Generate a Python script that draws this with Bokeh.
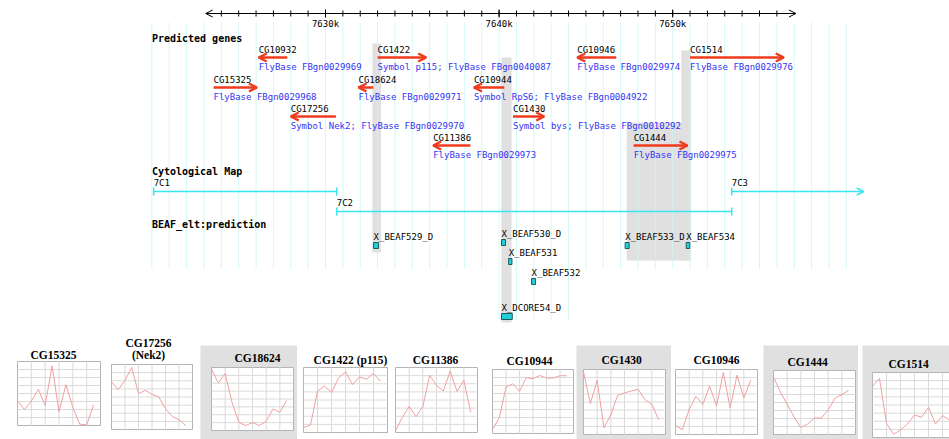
from bokeh.plotting import figure
from bokeh.models import Range1d, ColumnDataSource, Arrow, OpenHead, Spacer
from bokeh.layouts import column, row
from bokeh.embed import file_html
from bokeh.resources import INLINE
from bokeh.core.properties import value

# ---------------- data ----------------
ruler_start = 7623.1
ruler_end = 7657.1
ruler_labels = [7630, 7640, 7650]

gene_names = ["CG15325", "CG10932", "CG17256", "CG18624", "CG1422", "CG11386",
              "CG10944", "CG1430", "CG10946", "CG1444", "CG1514"]
gene_start = [7623.55, 7626.15, 7628.0, 7631.9, 7633.0, 7636.2,
              7638.55, 7640.8, 7644.5, 7647.75, 7651.0]
gene_end = [7626.05, 7627.8, 7630.6, 7632.75, 7635.8, 7638.35,
            7640.3, 7642.6, 7646.75, 7650.85, 7656.4]
gene_strand = [1, -1, -1, -1, 1, -1, -1, 1, -1, 1, 1]
gene_desc = ["FlyBase FBgn0029968", "FlyBase FBgn0029969",
             "Symbol Nek2; FlyBase FBgn0029970", "FlyBase FBgn0029971",
             "Symbol p115; FlyBase FBgn0040087", "FlyBase FBgn0029973",
             "Symbol RpS6; FlyBase FBgn0004922", "Symbol bys; FlyBase FBgn0010292",
             "FlyBase FBgn0029974", "FlyBase FBgn0029975", "FlyBase FBgn0029976"]
gene_row = [1, 0, 2, 1, 0, 3, 1, 2, 0, 3, 0]

cyto_names = ["7C1", "7C2", "7C3"]
cyto_start = [7620.1, 7630.65, 7653.4]
cyto_end = [7630.65, 7653.4, 7661.0]
cyto_row = [0, 1, 0]

beaf_names = ["X_BEAF529_D", "X_BEAF530_D", "X_BEAF531", "X_BEAF532",
              "X_DCORE54_D", "X_BEAF533_D", "X_BEAF534"]
beaf_start = [7632.77, 7640.14, 7640.55, 7641.87, 7640.14, 7647.26, 7650.78]
beaf_end = [7633.05, 7640.37, 7640.74, 7642.10, 7640.76, 7647.49, 7650.98]

hl_left = [7632.7, 7640.13, 7650.5, 7647.35]
hl_right = [7633.2, 7640.72, 7651.05, 7651.05]

time_points = list(range(12))
expr_titles = ["CG15325", "CG17256\n(Nek2)", "CG18624", "CG1422 (p115)", "CG11386",
               "CG10944", "CG1430", "CG10946", "CG1444", "CG1514"]
expr_CG15325 = [3.11, 1.99, 3.03, 4.52, 2.53, 7.47, 1.70, 5.10, 2.28, 0.17, 0.08, 2.57]
expr_CG17256 = [5.86, 4.91, 6.06, 7.63, 4.41, 4.82, 4.33, 4.00, 2.56, 1.61, 1.20, 0.49]
expr_CG18624 = [7.79, 6.02, 7.24, 3.58, 1.05, 0.63, 1.01, 0.63, 1.18, 2.74, 2.32, 3.79]
expr_CG1422 = [0.62, 0.91, 5.10, 5.73, 4.90, 6.72, 7.47, 5.89, 6.85, 6.56, 7.26, 6.31]
expr_CG11386 = [0.21, 1.87, 3.20, 1.95, 3.20, 7.05, 5.81, 5.10, 7.55, 5.06, 6.43, 2.49]
expr_CG10944 = [0.50, 1.95, 5.81, 6.22, 5.27, 6.97, 6.85, 7.26, 6.93, 6.93, 7.22, 7.22]
expr_CG1430 = [7.71, 3.79, 6.68, 0.82, 2.43, 4.82, 5.11, 5.36, 5.57, 4.29, 3.71, 1.81]
expr_CG10946 = [1.11, 0.58, 3.09, 4.70, 3.71, 5.94, 3.51, 7.63, 3.26, 7.30, 4.49, 6.68]
expr_CG1444 = [7.18, 5.31, 3.78, 2.20, 0.87, 1.29, 2.07, 2.07, 3.03, 4.56, 4.98, 5.52]
expr_CG1514 = [6.31, 7.26, 1.74, 0.41, 0.91, 1.66, 2.78, 2.49, 3.73, 1.66, 2.70, 2.16]
expr_shaded = [False, False, True, False, False, False, True, False, True, True]

# ---------------- styles / layout ----------------
MONO = value("DejaVu Sans Mono")
SERIF = value("Liberation Serif")
RED = "#f03a1e"
BLUE = "#3434f4"
CYAN = "#38e6f0"
GRAY = "#e0e0e0"
PX_PER_KB = 17.36
W = 949
TOP_H = 336
X0 = 7630 - 325 / PX_PER_KB
X1 = X0 + W / PX_PER_KB

p = figure(width=W, height=TOP_H, x_range=Range1d(X0, X1), y_range=Range1d(TOP_H, 0),
           output_backend="svg", toolbar_location=None, min_border=0)
p.axis.visible = False
p.grid.visible = False
p.outline_line_color = None
p.background_fill_color = "white"
p.border_fill_color = "white"

# gray highlight bands
hl_top = [43, 57, 50, 122]
hl_bottom = [252, 322, 260, 260]
p.quad(left=hl_left, right=hl_right, top=hl_top, bottom=hl_bottom,
       fill_color=GRAY, line_color=None)

# light vertical grid every kb
gk = list(range(7620, 7661))
gb = [320 if 7640 <= k <= 7644 else 268 for k in gk]
p.segment(x0=gk, y0=[22] * len(gk), x1=gk, y1=gb, line_color="#c8f6f6",
          line_width=1, line_alpha=0.8)

# ruler
p.add_layout(Arrow(x_start=ruler_start, y_start=13, x_end=ruler_end, y_end=13,
                   start=OpenHead(size=7, line_width=1, line_color="black"),
                   end=OpenHead(size=7, line_width=1, line_color="black"),
                   line_width=1, line_color="black"))
tk = list(range(7624, 7657))
p.segment(x0=tk, y0=[10] * len(tk), x1=tk, y1=[16] * len(tk), line_color="black", line_width=1)
p.segment(x0=ruler_labels, y0=[9] * 3, x1=ruler_labels, y1=[17] * 3, line_color="black", line_width=1)
p.text(x=ruler_labels, y=[23] * 3, text=[f"{k}k" for k in ruler_labels],
       text_font=MONO, text_font_size="9px", text_align="center", text_baseline="middle",
       text_color="black")

# track headers
hdr_x = 7620.0
p.text(x=[hdr_x] * 3, y=[38, 171, 224],
       text=["Predicted genes", "Cytological Map", "BEAF_elt:prediction"],
       text_font=MONO, text_font_size="10px", text_font_style="bold",
       text_align="left", text_baseline="middle", text_color="black")

# genes
row_y = [57, 87, 116, 145]
gy = [row_y[r] for r in gene_row]
gxs = [s if d > 0 else e for s, e, d in zip(gene_start, gene_end, gene_strand)]
gxe = [e if d > 0 else s for s, e, d in zip(gene_start, gene_end, gene_strand)]
gsrc = ColumnDataSource(dict(xs=gxs, xe=gxe, y=gy))
p.add_layout(Arrow(x_start="xs", y_start="y", x_end="xe", y_end="y", source=gsrc,
                   end=OpenHead(size=8, line_width=2.5, line_color=RED),
                   line_width=2.5, line_color=RED))
gleft = [min(s, e) for s, e in zip(gene_start, gene_end)]
p.text(x=gleft, y=[v - 8 for v in gy], text=gene_names, text_font=MONO,
       text_font_size="9px", text_align="left", text_baseline="middle", text_color="black")
p.text(x=gleft, y=[v + 9 for v in gy], text=gene_desc, text_font=MONO,
       text_font_size="9px", text_align="left", text_baseline="middle", text_color=BLUE)

# cytological map
cy_line = [191, 211]
cy = [cy_line[r] for r in cyto_row]
p.segment(x0=cyto_start[:2], y0=cy[:2], x1=cyto_end[:2], y1=cy[:2],
          line_color=CYAN, line_width=1.5)
p.add_layout(Arrow(x_start=cyto_start[2], y_start=cy[2], x_end=cyto_end[2], y_end=cy[2],
                   end=OpenHead(size=7, line_width=1.5, line_color=CYAN),
                   line_width=1.5, line_color=CYAN))
cap_x = cyto_start + cyto_end[:2]
cap_y = cy + cy[:2]
p.segment(x0=cap_x, y0=[v - 4 for v in cap_y], x1=cap_x, y1=[v + 4 for v in cap_y],
          line_color=CYAN, line_width=1.5)
p.text(x=cyto_start, y=[v - 9 for v in cy], text=cyto_names, text_font=MONO,
       text_font_size="9px", text_align="left", text_baseline="middle", text_color="black")

# BEAF predictions
beaf_top = [242, 239, 258, 278, 313, 242, 242]
p.quad(left=beaf_start, right=beaf_end, top=beaf_top, bottom=[t + 6 for t in beaf_top],
       fill_color="#22d0da", line_color="#1d5a5a", line_width=1)
p.text(x=beaf_start, y=[t - 6 for t in beaf_top], text=beaf_names, text_font=MONO,
       text_font_size="9px", text_align="left", text_baseline="middle", text_color="black")

# ---------------- expression panels ----------------
series = [expr_CG15325, expr_CG17256, expr_CG18624, expr_CG1422, expr_CG11386,
          expr_CG10944, expr_CG1430, expr_CG10946, expr_CG1444, expr_CG1514]
cell_left = [0, 105, 200, 297, 390, 484, 576, 671, 763, 862]
cell_w = [105, 95, 97, 93, 94, 92, 95, 92, 95, 87]
# (left, right, top, bottom) pixel margins between cell edge and plot box
borders = [(17, 5, 25, 14), (6, 8, 28, 10), (11, 4, 22, 9), (6, 3, 31, 7), (5, 7, 31, 7),
           (8, 3, 33, 6), (7, 6, 24, 5), (4, 6, 33, 5), (10, 3, 25, 5), (10, 0, 27, 2)]
x_visible = [12] * 9 + [11]
title_cx = [53, 148, 257, 350, 435, 529, 621, 716, 807, 908]
title_cy = [354, 348.5, 357, 359, 359, 360, 359, 359, 361, 363]
ROW_TOP = TOP_H
ROW_H = 439 - TOP_H
SHADE_TOP = 345

cells = []
for i, (ttl, vals) in enumerate(zip(expr_titles, series)):
    shaded = expr_shaded[i]
    top = SHADE_TOP if shaded else ROW_TOP
    h = 439 - top
    w = cell_w[i]
    bl, br, bt, bb = borders[i]
    xv = x_visible[i]
    pw = w - bl - br
    ph = h - bt - bb
    sx = pw / xv
    sy = ph / 8.0
    bg = GRAY if shaded else "white"
    f = figure(width=w, height=h, x_range=Range1d(-bl / sx, xv + br / sx),
               y_range=Range1d(-bb / sy, 8 + bt / sy),
               output_backend="svg", toolbar_location=None, min_border=0)
    f.axis.visible = False
    f.grid.visible = False
    f.outline_line_color = None
    f.background_fill_color = bg
    f.border_fill_color = bg
    f.quad(left=[0], right=[12], bottom=[0], top=[8], fill_color="white",
           line_color="#b4b4b4", line_width=1)
    gx = [0, 2, 4, 6, 8, 10]
    f.segment(x0=gx[1:], y0=[0] * 5, x1=gx[1:], y1=[8] * 5, line_color="#dadada", line_width=1)
    gyk = list(range(1, 8))
    f.segment(x0=[0] * 7, y0=gyk, x1=[12] * 7, y1=gyk, line_color="#dadada", line_width=1)
    f.line(time_points, vals, line_color="#f2a0a0", line_width=1)
    tx = (title_cx[i] - cell_left[i] - bl) / sx
    ty = 8 + (bt - (title_cy[i] - top)) / sy
    f.text(x=[tx], y=[ty], text=[ttl], text_font=SERIF, text_font_style="bold",
           text_font_size="11.5px", text_align="center", text_baseline="middle",
           text_color="black", text_line_height=0.95)
    if shaded:
        cells.append(column(Spacer(width=w, height=SHADE_TOP - ROW_TOP), f, spacing=0))
    else:
        cells.append(f)
    if i == 8:
        cells.append(Spacer(width=4, height=ROW_H))

layout = column(p, row(cells, spacing=0), spacing=0)
open("out.html", "w").write(file_html(layout, INLINE))
